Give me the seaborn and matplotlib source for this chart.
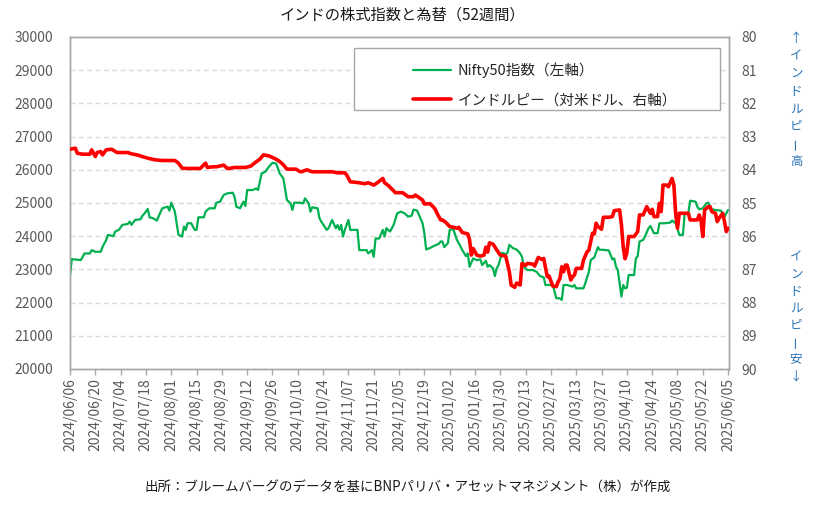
import numpy as np
import pandas as pd
import matplotlib
matplotlib.use("Agg")
import matplotlib.pyplot as plt
import matplotlib.dates as mdates
from matplotlib.lines import Line2D
from matplotlib.patches import Rectangle
import seaborn as sns

# ---------------- data ----------------
title = "インドの株式指数と為替（52週間）"
source = "出所：ブルームバーグのデータを基にBNPパリバ・アセットマネジメント（株）が作成"
label_nifty = "Nifty50指数（左軸）"
label_inr = "インドルピー（対米ドル、右軸）"
note_up = "↑インドルピー高"
note_down = "インドルピー安↓"

nifty_dates = [
    "2024-06-06", "2024-06-07", "2024-06-12", "2024-06-13", "2024-06-14", "2024-06-17", "2024-06-18", "2024-06-20", "2024-06-23", "2024-06-24", "2024-06-26", "2024-06-27", "2024-06-30",
    "2024-07-01", "2024-07-03", "2024-07-05", "2024-07-08", "2024-07-09", "2024-07-10", "2024-07-12", "2024-07-15", "2024-07-16", "2024-07-17", "2024-07-19", "2024-07-20", "2024-07-22", "2024-07-24", "2024-07-27", "2024-07-30", "2024-07-31",
    "2024-08-01", "2024-08-03", "2024-08-05", "2024-08-07", "2024-08-08", "2024-08-09", "2024-08-10", "2024-08-12", "2024-08-14", "2024-08-15", "2024-08-16", "2024-08-19", "2024-08-20", "2024-08-22", "2024-08-25", "2024-08-26", "2024-08-28", "2024-08-30",
    "2024-09-01", "2024-09-04", "2024-09-05", "2024-09-06", "2024-09-08", "2024-09-10", "2024-09-11", "2024-09-12", "2024-09-15", "2024-09-17", "2024-09-18", "2024-09-20", "2024-09-22", "2024-09-24", "2024-09-26", "2024-09-28", "2024-09-30",
    "2024-10-02", "2024-10-04", "2024-10-06", "2024-10-07", "2024-10-08", "2024-10-11", "2024-10-13", "2024-10-14", "2024-10-16", "2024-10-17", "2024-10-18", "2024-10-21", "2024-10-22", "2024-10-23", "2024-10-26", "2024-10-27", "2024-10-29", "2024-10-31",
    "2024-11-01", "2024-11-02", "2024-11-03", "2024-11-04", "2024-11-05", "2024-11-07", "2024-11-08", "2024-11-12", "2024-11-13", "2024-11-17", "2024-11-18", "2024-11-20", "2024-11-21", "2024-11-22", "2024-11-24", "2024-11-26", "2024-11-27", "2024-11-28", "2024-11-30",
    "2024-12-02", "2024-12-04", "2024-12-06", "2024-12-08", "2024-12-10", "2024-12-12", "2024-12-13", "2024-12-15", "2024-12-18", "2024-12-19", "2024-12-20", "2024-12-22", "2024-12-24", "2024-12-27", "2024-12-28", "2024-12-29", "2024-12-30",
    "2025-01-01", "2025-01-02", "2025-01-04", "2025-01-06", "2025-01-08", "2025-01-09", "2025-01-11", "2025-01-12", "2025-01-13", "2025-01-15", "2025-01-17", "2025-01-19", "2025-01-20", "2025-01-22", "2025-01-23", "2025-01-24", "2025-01-26", "2025-01-27", "2025-01-28", "2025-01-29", "2025-01-31",
    "2025-02-02", "2025-02-03", "2025-02-04", "2025-02-06", "2025-02-08", "2025-02-10", "2025-02-11", "2025-02-12", "2025-02-13", "2025-02-14", "2025-02-17", "2025-02-19", "2025-02-21", "2025-02-23", "2025-02-24", "2025-02-28",
    "2025-03-02", "2025-03-04", "2025-03-05", "2025-03-06", "2025-03-08", "2025-03-11", "2025-03-12", "2025-03-13", "2025-03-17", "2025-03-18", "2025-03-20", "2025-03-21", "2025-03-23", "2025-03-25", "2025-03-26", "2025-03-28", "2025-03-31",
    "2025-04-02", "2025-04-03", "2025-04-04", "2025-04-05", "2025-04-07", "2025-04-08", "2025-04-09", "2025-04-10", "2025-04-11", "2025-04-14", "2025-04-15", "2025-04-16", "2025-04-17", "2025-04-19", "2025-04-20", "2025-04-22", "2025-04-23", "2025-04-25", "2025-04-27", "2025-04-28",
    "2025-05-01", "2025-05-04", "2025-05-05", "2025-05-07", "2025-05-08", "2025-05-09", "2025-05-11", "2025-05-12", "2025-05-14", "2025-05-15", "2025-05-18", "2025-05-19", "2025-05-20", "2025-05-22", "2025-05-24", "2025-05-25", "2025-05-27", "2025-05-29",
    "2025-06-01", "2025-06-02", "2025-06-03", "2025-06-05",
]
nifty_values = [
    22820, 23310, 23280, 23380, 23480, 23480, 23580, 23530, 23530, 23680, 23880, 24040, 24000,
    24140, 24190, 24340, 24370, 24440, 24340, 24490, 24510, 24610, 24670, 24820, 24570, 24540, 24470, 24840, 24890, 24770,
    25010, 24740, 24040, 23990, 24290, 24190, 24390, 24390, 24190, 24190, 24570, 24570, 24740, 24840, 24840, 25010, 25040, 25240,
    25290, 25310, 25190, 24890, 24840, 25040, 24910, 25390, 25390, 25440, 25390, 25890, 25940, 26090, 26210, 26190, 25890,
    25740, 25090, 24990, 24790, 25010, 25010, 24990, 25140, 24990, 24740, 24870, 24840, 24540, 24440, 24190, 24240, 24490, 24240,
    24340, 24190, 24340, 23990, 24190, 24490, 24190, 24190, 23580, 23580, 23480, 23580, 23380, 23930, 23930, 24190, 23990, 24240, 24140,
    24340, 24690, 24740, 24690, 24590, 24620, 24800, 24770, 24390, 24090, 23600, 23640, 23700, 23770, 23840, 23840, 23670,
    23790, 24190, 24210, 23890, 23690, 23580, 23400, 23480, 23080, 23330, 23280, 23300, 23130, 23260, 23080, 23130, 23030, 22800, 23030, 23130, 23500,
    23460, 23500, 23740, 23640, 23600, 23480, 23380, 23080, 23030, 22980, 22980, 22930, 22800, 22760, 22530, 22530,
    22130, 22130, 22080, 22530, 22530, 22480, 22530, 22430, 22430, 22580, 22930, 23280, 23360, 23670, 23590, 23590, 23570,
    23300, 23330, 23080, 22980, 22180, 22530, 22430, 22450, 22830, 22830, 23330, 23400, 23840, 23890, 23990, 24240, 24310, 24090, 24090, 24390,
    24390, 24410, 24470, 24390, 24240, 24040, 24040, 24690, 24690, 25070, 25040, 24890, 24810, 24840, 24990, 25010, 24810, 24790,
    24770, 24690, 24590, 24790,
]

inr_dates = [
    "2024-06-06", "2024-06-09", "2024-06-10", "2024-06-13", "2024-06-17", "2024-06-18", "2024-06-20", "2024-06-21", "2024-06-23", "2024-06-24", "2024-06-26", "2024-06-29",
    "2024-07-02", "2024-07-08", "2024-07-10", "2024-07-13", "2024-07-16", "2024-07-19", "2024-07-23", "2024-07-27",
    "2024-08-03", "2024-08-05", "2024-08-07", "2024-08-10", "2024-08-17", "2024-08-20", "2024-08-21", "2024-08-24", "2024-08-26", "2024-08-30",
    "2024-09-01", "2024-09-02", "2024-09-05", "2024-09-11", "2024-09-14", "2024-09-16", "2024-09-19", "2024-09-21", "2024-09-24", "2024-09-26", "2024-09-28", "2024-09-30",
    "2024-10-02", "2024-10-04", "2024-10-09", "2024-10-11", "2024-10-12", "2024-10-15", "2024-10-18", "2024-10-29",
    "2024-11-01", "2024-11-05", "2024-11-06", "2024-11-08", "2024-11-13", "2024-11-16", "2024-11-18", "2024-11-21", "2024-11-23", "2024-11-26", "2024-11-27", "2024-11-29",
    "2024-12-03", "2024-12-07", "2024-12-10", "2024-12-13", "2024-12-14", "2024-12-18", "2024-12-19", "2024-12-22", "2024-12-24", "2024-12-25", "2024-12-26", "2024-12-28", "2024-12-29", "2024-12-31",
    "2025-01-02", "2025-01-04", "2025-01-06", "2025-01-07", "2025-01-09", "2025-01-12", "2025-01-13", "2025-01-14", "2025-01-15", "2025-01-17", "2025-01-19", "2025-01-21", "2025-01-22", "2025-01-23", "2025-01-24", "2025-01-26", "2025-01-28", "2025-01-30",
    "2025-02-02", "2025-02-04", "2025-02-05", "2025-02-07", "2025-02-08", "2025-02-10", "2025-02-11", "2025-02-13", "2025-02-14", "2025-02-17", "2025-02-18", "2025-02-20", "2025-02-22", "2025-02-23", "2025-02-25", "2025-02-26", "2025-02-28",
    "2025-03-02", "2025-03-03", "2025-03-04", "2025-03-05", "2025-03-06", "2025-03-07", "2025-03-08", "2025-03-10", "2025-03-11", "2025-03-12", "2025-03-13", "2025-03-16", "2025-03-17", "2025-03-19", "2025-03-20", "2025-03-21", "2025-03-22", "2025-03-23", "2025-03-24", "2025-03-25", "2025-03-27", "2025-03-28", "2025-03-31",
    "2025-04-02", "2025-04-03", "2025-04-06", "2025-04-07", "2025-04-08", "2025-04-09", "2025-04-10", "2025-04-11", "2025-04-14", "2025-04-16", "2025-04-17", "2025-04-19", "2025-04-21", "2025-04-22", "2025-04-23", "2025-04-24", "2025-04-25", "2025-04-27", "2025-04-28", "2025-04-29", "2025-04-30",
    "2025-05-02", "2025-05-03", "2025-05-05", "2025-05-06", "2025-05-07", "2025-05-08", "2025-05-09", "2025-05-14", "2025-05-15", "2025-05-19", "2025-05-20", "2025-05-21", "2025-05-22", "2025-05-23", "2025-05-25", "2025-05-26", "2025-05-27", "2025-05-29", "2025-05-30", "2025-05-31",
    "2025-06-02", "2025-06-03", "2025-06-04", "2025-06-05",
]
inr_values = [
    83.38, 83.35, 83.50, 83.53, 83.53, 83.40, 83.60, 83.48, 83.45, 83.55, 83.40, 83.38,
    83.48, 83.48, 83.52, 83.55, 83.60, 83.65, 83.70, 83.72,
    83.72, 83.80, 83.95, 83.96, 83.96, 83.80, 83.93, 83.91, 83.91, 83.86,
    83.96, 83.96, 83.93, 83.93, 83.89, 83.80, 83.68, 83.55, 83.58, 83.63, 83.68, 83.75,
    83.85, 83.98, 83.98, 84.05, 84.06, 84.00, 84.06, 84.06,
    84.09, 84.09, 84.15, 84.36, 84.39, 84.42, 84.39, 84.46, 84.39, 84.26, 84.39, 84.47,
    84.69, 84.69, 84.81, 84.81, 84.76, 84.91, 85.03, 85.02, 85.12, 85.19, 85.31, 85.51, 85.51, 85.59,
    85.71, 85.73, 85.76, 85.73, 85.89, 85.93, 86.11, 86.57, 86.37, 86.57, 86.60, 86.57, 86.33, 86.48, 86.20, 86.24, 86.41, 86.57,
    86.60, 87.07, 87.47, 87.54, 87.41, 87.47, 86.82, 86.88, 86.82, 86.84, 86.90, 86.64, 86.70, 86.67, 87.22, 87.20, 87.50,
    87.52, 87.37, 87.27, 86.92, 87.07, 86.87, 86.87, 87.32, 87.22, 87.17, 86.97, 86.97, 86.72, 86.47, 86.42, 86.17, 85.91, 85.93, 85.61, 85.71, 85.79, 85.43, 85.43,
    85.41, 85.23, 85.21, 85.66, 86.32, 86.68, 86.50, 86.01, 86.01, 85.86, 85.36, 85.36, 85.11, 85.21, 85.31, 85.19, 85.41, 85.41, 85.01, 85.26, 84.46,
    84.46, 84.51, 84.26, 84.46, 85.31, 85.76, 85.31, 85.31, 85.51, 85.51, 85.36, 85.51, 86.01, 85.21, 85.11, 85.11, 85.26, 85.31, 85.56, 85.46,
    85.31, 85.56, 85.86, 85.76,
]

left_ticks = [20000, 21000, 22000, 23000, 24000, 25000, 26000, 27000, 28000, 29000, 30000]
right_ticks = [80, 81, 82, 83, 84, 85, 86, 87, 88, 89, 90]
x_start = "2024-06-06"
x_end = "2025-06-05"

# ---------------- style ----------------
sns.set_theme(style="white")
plt.rcParams["font.family"] = ["Noto Sans CJK JP", "DejaVu Sans"]

GREEN = "#00B050"
RED = "#FF0000"
BLUE = "#2E75B6"
GRAY_TXT = "#595959"
GRAY_LINE = "#A6A6A6"
GRID = "#D9D9D9"

W, H = 832, 505
fig = plt.figure(figsize=(W / 100, H / 100), dpi=100)
fig.patch.set_facecolor("white")
ax = fig.add_subplot(111)
fig.subplots_adjust(left=70 / W, right=729 / W, top=1 - 37 / H, bottom=1 - 369 / H)

nifty_df = pd.DataFrame({"date": pd.to_datetime(nifty_dates), "value": nifty_values})
inr_df = pd.DataFrame({"date": pd.to_datetime(inr_dates), "value": inr_values})

sns.lineplot(data=nifty_df, x="date", y="value", ax=ax, color=GREEN, linewidth=1.6,
             estimator=None, zorder=3)
ax2 = ax.twinx()
sns.lineplot(data=inr_df, x="date", y="value", ax=ax2, color=RED, linewidth=2.6,
             estimator=None, zorder=3)

# axes limits
ax.set_ylim(left_ticks[0], left_ticks[-1])
ax.set_yticks(left_ticks)
ax2.set_ylim(right_ticks[-1], right_ticks[0])
ax2.set_yticks(right_ticks)
xs = pd.Timestamp(x_start)
xe = pd.Timestamp(x_end)
ax.set_xlim(xs, xe + pd.Timedelta(hours=12))
xt = pd.date_range(xs, xe, freq="14D")
ax.set_xticks(xt)
ax.xaxis.set_major_formatter(mdates.DateFormatter("%Y/%m/%d"))

for a in (ax, ax2):
    a.set_xlabel("")
    a.set_ylabel("")
    for s in a.spines.values():
        s.set_color(GRAY_LINE)
        s.set_linewidth(1.0)

ax.grid(False)
ax2.grid(False)
for v in left_ticks[1:-1]:
    ax.axhline(v, color=GRID, linewidth=1.0, linestyle=(0, (3.6, 2.4)), zorder=1)

ax.tick_params(axis="y", length=0, pad=12, labelsize=10, labelcolor=GRAY_TXT)
ax2.tick_params(axis="y", length=0, pad=9, labelsize=10, labelcolor=GRAY_TXT)
ax.tick_params(axis="x", direction="out", length=4, width=1, color=GRAY_LINE,
               pad=2.5, labelsize=10, labelcolor=GRAY_TXT, labelrotation=90, bottom=True)

# legend box
ax2.add_patch(Rectangle((0.431, 0.780), 0.555, 0.187, transform=ax2.transAxes,
                        facecolor="white", edgecolor=GRAY_LINE, linewidth=1.0, zorder=5))
handles = [Line2D([], [], color=GREEN, linewidth=1.6),
           Line2D([], [], color=RED, linewidth=2.6)]
leg = ax2.legend(handles, [label_nifty, label_inr], loc="upper left",
                 bbox_to_anchor=(0.51, 0.945), frameon=False, fontsize=10.5,
                 handlelength=2.6, handletextpad=0.45, labelspacing=1.05, borderpad=0)
leg.set_zorder(6)
for t in leg.get_texts():
    t.set_color("#262626")

# title & source
fig.text(402 / W, 1 - 15 / H, title, ha="center", va="center", fontsize=11, color="#1a1a1a")
fig.text(408 / W, 1 - 488 / H, source, ha="center", va="center", fontsize=9.7, color="#1a1a1a")

# vertical notes on the right
def vertical_note(text, x_px, y0_px, step_px):
    for i, ch in enumerate(text):
        fig.text(x_px / W, 1 - (y0_px + i * step_px) / H, ch,
                 rotation=90 if ch == "ー" else 0,
                 ha="center", va="center", fontsize=9, color=BLUE)

vertical_note(note_up, 796, 38.5, 17.6)
vertical_note(note_down, 796, 257, 17.0)

fig.savefig("out.png", dpi=100, facecolor="white")
